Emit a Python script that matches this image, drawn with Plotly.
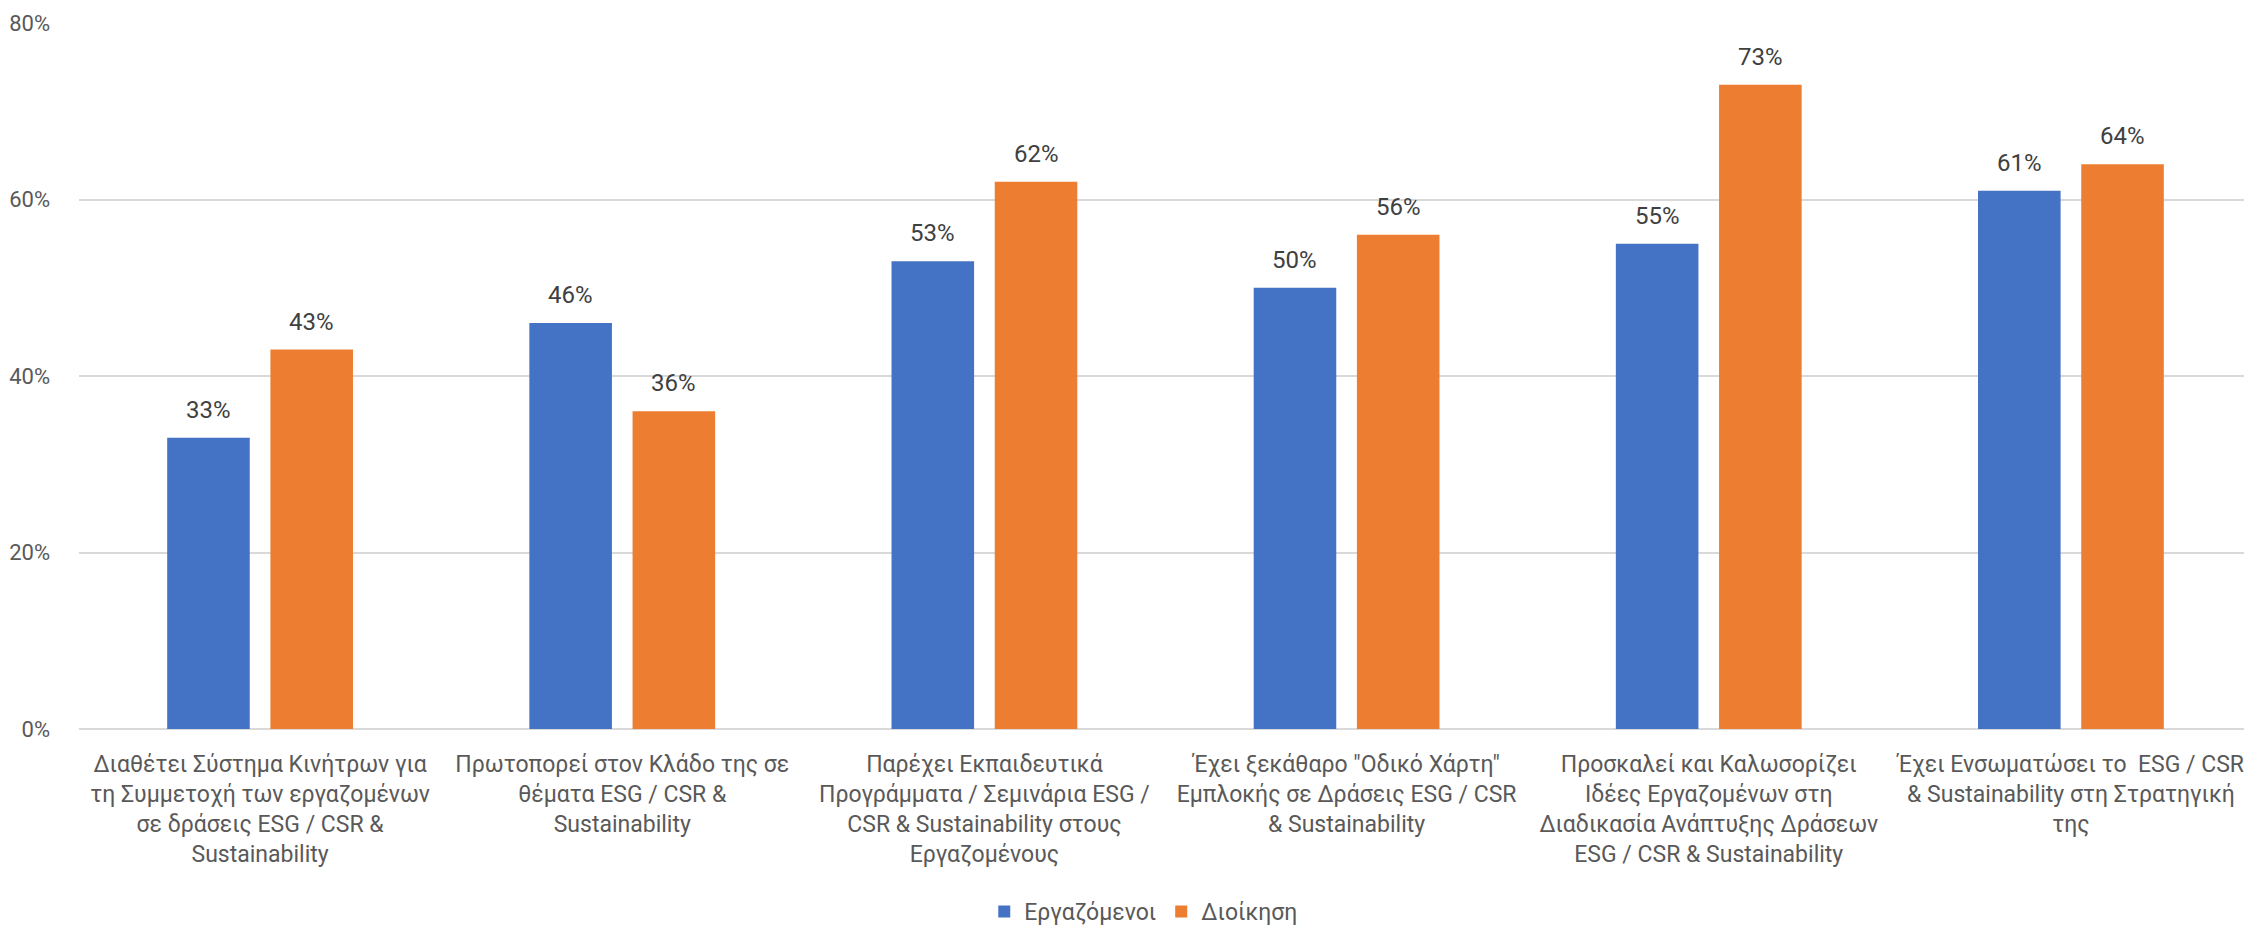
import plotly.graph_objects as go

categories = [
    "Διαθέτει Σύστημα Κινήτρων για<br>τη Συμμετοχή των εργαζομένων<br>σε δράσεις ESG / CSR &<br>Sustainability",
    "Πρωτοπορεί στον Κλάδο της σε<br>θέματα ESG / CSR &<br>Sustainability",
    "Παρέχει Εκπαιδευτικά<br>Προγράμματα / Σεμινάρια ESG /<br>CSR & Sustainability στους<br>Εργαζομένους",
    "Έχει ξεκάθαρο \"Οδικό Χάρτη\"<br>Εμπλοκής σε Δράσεις ESG / CSR<br>& Sustainability",
    "Προσκαλεί και Καλωσορίζει<br>Ιδέες Εργαζομένων στη<br>Διαδικασία Ανάπτυξης Δράσεων<br>ESG / CSR & Sustainability",
    "Έχει Ενσωματώσει το  ESG / CSR<br>& Sustainability στη Στρατηγική<br>της",
]
employees = [33, 46, 53, 50, 55, 61]
management = [43, 36, 62, 56, 73, 64]
series_names = ["Εργαζόμενοι", "Διοίκηση"]
y_ticks = [0, 20, 40, 60, 80]
y_tick_labels = ["0%", "20%", "40%", "60%", "80%"]

BLUE = "#4472C4"
ORANGE = "#ED7D31"
FONT = "Roboto"
BARGAP = 0.43
FIG_W, FIG_H = 2244, 922   # page body adds an 8px margin
M_L, M_R, M_T, M_B = 71, 0, 15, 201

fig = go.Figure()
fig.add_trace(go.Bar(x=categories, y=employees, name=series_names[0],
                     marker=dict(color=BLUE, line=dict(width=0))))
fig.add_trace(go.Bar(x=categories, y=management, name=series_names[1],
                     marker=dict(color=ORANGE, line=dict(width=0))))

# data labels above each bar
plot_w = FIG_W - M_L - M_R
slot_px = plot_w / len(categories) * (1 - BARGAP) / 2
for vals, sign in ((employees, -1), (management, 1)):
    for c, v in zip(categories, vals):
        fig.add_annotation(x=c, y=v, text=f"{v}%", showarrow=False,
                           xshift=sign * slot_px / 2, yshift=12, yanchor="bottom",
                           font=dict(family=FONT, size=24, color="#404040"))

fig.update_layout(
    width=FIG_W, height=FIG_H,
    margin=dict(l=M_L, r=M_R, t=M_T, b=M_B),
    paper_bgcolor="white", plot_bgcolor="white",
    barmode="group", bargap=BARGAP, bargroupgap=0.2,
    font=dict(family=FONT, color="#595959", size=23),
    showlegend=True,
    legend=dict(orientation="h", x=0.49, xanchor="center",
                yref="container", y=0.02, yanchor="middle",
                font=dict(family=FONT, size=23, color="#595959"),
                traceorder="normal"),
)
fig.update_xaxes(type="category", showgrid=False, showline=False, ticks="",
                 tickfont=dict(family=FONT, size=23, color="#595959"),
                 ticklabelstandoff=19, automargin=False, tickangle=0)
fig.update_yaxes(range=[0, 80], tickmode="array", tickvals=y_ticks, ticktext=y_tick_labels,
                 showgrid=True, gridcolor="#D9D9D9", gridwidth=2,
                 zeroline=True, zerolinecolor="#D9D9D9", zerolinewidth=2,
                 showline=False, ticks="", ticklabelstandoff=28,
                 tickfont=dict(family=FONT, size=22, color="#595959"),
                 automargin=False)

fig.write_html("out.html")
